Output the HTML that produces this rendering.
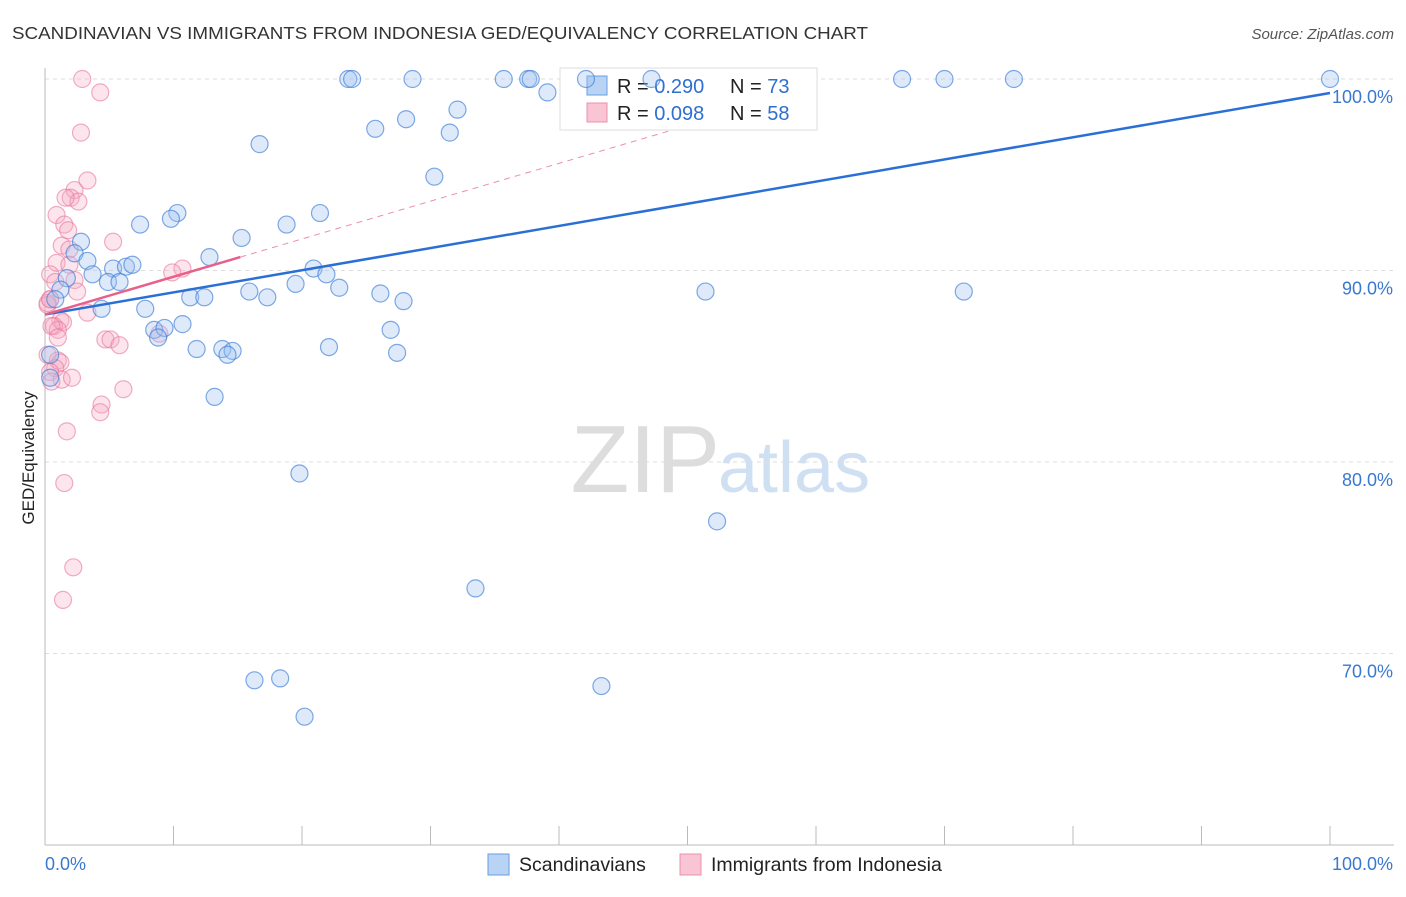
<!DOCTYPE html>
<html><head><meta charset="utf-8"><style>
body{margin:0;background:#fff;font-family:"Liberation Sans",sans-serif}
svg text{font-family:"Liberation Sans",sans-serif}
</style></head><body>
<svg id="c" width="1406" height="892" xmlns="http://www.w3.org/2000/svg">
<text x="12" y="39" font-size="17.5" fill="#333" textLength="856" lengthAdjust="spacingAndGlyphs">SCANDINAVIAN VS IMMIGRANTS FROM INDONESIA GED/EQUIVALENCY CORRELATION CHART</text>
<text x="1394" y="39" font-size="15" fill="#555" font-style="italic" text-anchor="end">Source: ZipAtlas.com</text>
<text x="720" y="492" font-size="96" fill="#ddd" text-anchor="end" font-family="Liberation Serif">ZIP</text>
<text x="718" y="492" font-size="72" fill="#cfe0f3">atlas</text>
<g id="grid"></g><g id="axes"></g><g id="dash"></g>
<g>
<rect x="560" y="68" width="257" height="62" fill="#fff" stroke="#ddd"/>
<rect x="587" y="76" width="20" height="19" fill="#b8d3f3" stroke="#6a9de0"/>
<rect x="587" y="103" width="20" height="19" fill="#f9c4d4" stroke="#ec8fab"/>
<text x="617" y="93" font-size="20" fill="#222">R = <tspan fill="#2f6fd1">0.290</tspan></text>
<text x="730" y="93" font-size="20" fill="#222">N = <tspan fill="#2f6fd1">73</tspan></text>
<text x="617" y="120" font-size="20" fill="#222">R = <tspan fill="#2f6fd1">0.098</tspan></text>
<text x="730" y="120" font-size="20" fill="#222">N = <tspan fill="#2f6fd1">58</tspan></text>
</g>
<g id="pts"></g><g id="lines"></g>
<text transform="translate(34,458) rotate(-90)" font-size="17" fill="#222" text-anchor="middle">GED/Equivalency</text>
<g>
<rect x="488" y="854" width="21" height="21" fill="#b8d3f3" stroke="#6a9de0"/>
<text x="519" y="871" font-size="19.5" fill="#222">Scandinavians</text>
<rect x="680" y="854" width="21" height="21" fill="#f9c4d4" stroke="#ec8fab"/>
<text x="711" y="871" font-size="19.5" fill="#222">Immigrants from Indonesia</text>
</g>
<text x="45" y="870" font-size="18" fill="#3a78d0">0.0%</text>
<text x="1393" y="870" font-size="18" fill="#3a78d0" text-anchor="end">100.0%</text>
</svg>
<script>
const yTicks=[100,90,80,70];
const blueX=[23.6,23.9,28.6,35.7,37.6,37.8,42.1,47.2,66.7,70,75.4,100,39.1,28.1,32.1,25.7,31.5,16.7,30.3,10.3,9.8,7.4,21.4,18.8,15.3,2.8,2.3,3.3,12.8,5.3,6.3,6.8,20.9,3.7,1.7,4.9,5.8,21.9,19.5,22.9,15.9,1.2,51.4,71.5,11.3,12.4,17.3,26.1,27.9,0.8,4.4,7.8,10.7,8.5,9.3,8.8,26.9,11.8,13.8,14.6,14.2,22.1,27.4,0.4,0.4,13.2,19.8,52.3,33.5,16.3,18.3,43.3,20.2];
const blueY=[100,100,100,100,100,100,100,100,100,100,100,100,99.3,97.9,98.4,97.4,97.2,96.6,94.9,93,92.7,92.4,93,92.4,91.7,91.5,90.9,90.5,90.7,90.1,90.2,90.3,90.1,89.8,89.6,89.4,89.4,89.8,89.3,89.1,88.9,89.0,88.9,88.9,88.6,88.6,88.6,88.8,88.4,88.5,88.0,88.0,87.2,86.9,87.0,86.5,86.9,85.9,85.9,85.8,85.6,86.0,85.7,85.6,84.4,83.4,79.4,76.9,73.4,68.6,68.7,68.3,66.7];
const pinkX=[2.9,4.3,2.8,3.3,2.3,2.0,2.6,1.6,0.9,1.5,1.8,5.3,1.3,1.9,0.9,1.9,10.7,9.9,0.4,2.3,0.8,2.5,0.4,0.2,3.3,1.2,1.4,0.7,1.0,0.5,1.0,4.7,5.1,5.8,8.9,0.2,1.0,1.2,0.8,0.4,1.3,0.5,2.1,6.1,4.4,4.3,1.7,1.5,2.2,1.4,0.2,0.4];
const pinkY=[100,99.3,97.2,94.7,94.2,93.8,93.6,93.8,92.9,92.4,92.1,91.5,91.3,91.1,90.4,90.3,90.1,89.9,89.8,89.5,89.4,88.9,88.5,88.2,87.8,87.4,87.3,87.1,86.9,87.1,86.5,86.4,86.4,86.1,86.7,85.6,85.3,85.2,84.9,84.7,84.3,84.2,84.4,83.8,83.0,82.6,81.6,78.9,74.5,72.8,88.3,88.5];
const blueTrend=[87.7,99.27]; // y at x=0, x=100
const pinkTrend=[87.7,90.7,15.2]; // y at 0, y at end, solid end x
const X=v=>45+v*12.85, Y=v=>79+(100-v)*19.15;
const NS="http://www.w3.org/2000/svg";
function mk(t,a,p){const e=document.createElementNS(NS,t);for(const k in a)e.setAttribute(k,a[k]);document.getElementById(p).appendChild(e);return e;}
yTicks.forEach(t=>{
 const g=mk('line',{x1:45,x2:1394,y1:Y(t),y2:Y(t),stroke:'#ddd','stroke-dasharray':'4,4'},'grid');
 
 
 const l=mk('text',{x:1393,y:Y(t)+24,'font-size':18,fill:'#3a78d0','text-anchor':'end'},'grid');
 l.textContent=t.toFixed(1)+'%';
 
 
});
mk('line',{x1:45,x2:45,y1:68,y2:845,stroke:'#bbb'},'axes');
mk('line',{x1:45,x2:1394,y1:845,y2:845,stroke:'#bbb'},'axes');
for(let i=1;i<=10;i++){mk('line',{x1:X(i*10),x2:X(i*10),y1:826,y2:845,stroke:'#bbb'},'axes');}
pinkX.forEach((x,i)=>{const c=mk('circle',{cx:X(x),cy:Y(pinkY[i]),r:8.5,fill:'rgba(246,170,194,0.3)',stroke:'rgba(234,120,155,0.6)','stroke-width':1.2},'pts');
 
 });
blueX.forEach((x,i)=>{const c=mk('circle',{cx:X(x),cy:Y(blueY[i]),r:8.5,fill:'rgba(160,196,240,0.35)',stroke:'rgba(60,125,215,0.65)','stroke-width':1.2},'pts');
 
 });
const ps=(pinkTrend[1]-pinkTrend[0])/pinkTrend[2];
const pd=mk('line',{x1:X(pinkTrend[2]),y1:Y(pinkTrend[1]),x2:X(50),y2:Y(pinkTrend[0]+ps*50),stroke:'#ec8fab','stroke-width':1,'stroke-dasharray':'6,5'},'dash');


const bl=mk('line',{x1:X(0),y1:Y(blueTrend[0]),x2:X(100),y2:Y(blueTrend[1]),stroke:'#2a6fd6','stroke-width':2.5},'lines');


const pl=mk('line',{x1:X(0),y1:Y(pinkTrend[0]),x2:X(pinkTrend[2]),y2:Y(pinkTrend[1]),stroke:'#e8608a','stroke-width':2.5},'lines');


</script>
</body></html>
